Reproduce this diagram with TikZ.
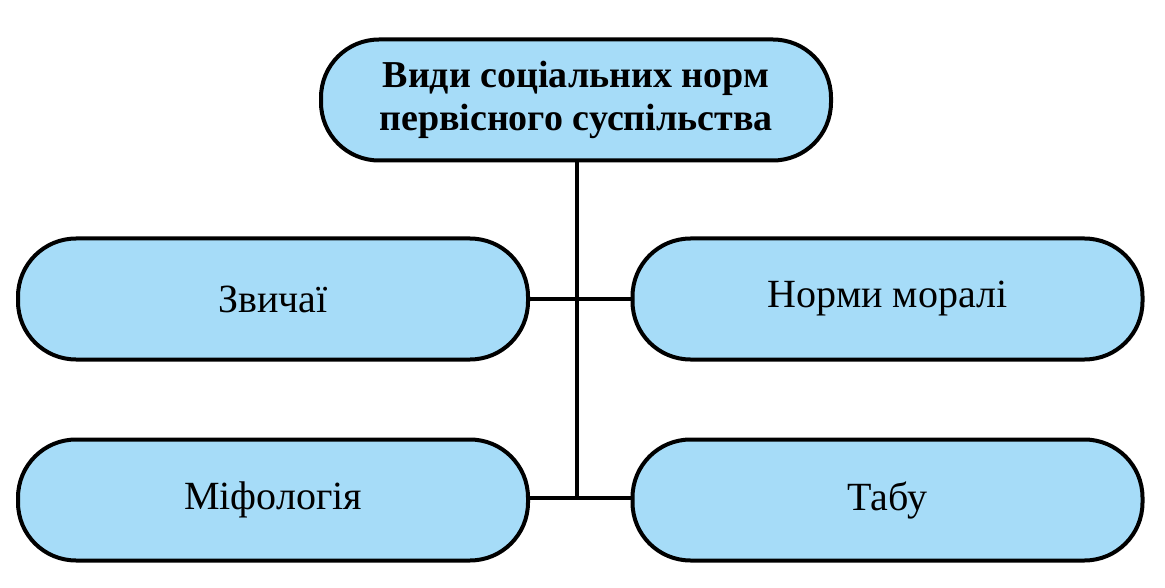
\documentclass[tikz,border=0pt]{standalone}
\usepackage{fontspec}
\setmainfont{Liberation Serif}
\definecolor{boxblue}{HTML}{A6DCF8}
\begin{document}
\begin{tikzpicture}[x=1pt,y=-1pt,
  box/.style={draw=black,line width=4pt,fill=boxblue,rectangle,rounded corners=58pt,
    minimum width=510pt,minimum height=121pt,inner sep=0pt,align=center,
    font=\fontsize{40}{43}\selectfont},
  link/.style={line width=4pt}]
\useasboundingbox[fill=white] (0,0) rectangle (1165,588);
\node[box,font=\fontsize{38}{43}\selectfont\bfseries] (top) at (576,100) {Види соціальних норм\\первісного суспільства};
\node[box] (zv) at (273,299) {Звичаї};
\node[box] (nm) at (887.5,299) {Норми моралі};
\node[box] (mf) at (273,500) {Міфологія};
\node[box] (tb) at (887.5,500) {Табу};
\coordinate (j2) at (577,498);
\draw[link] (top.south -| j2) -- (j2);
\draw[link] (zv.east |- 0,299) -- (nm.west |- 0,299);
\draw[link] (mf.east |- j2) -- (tb.west |- j2);
\end{tikzpicture}
\end{document}
